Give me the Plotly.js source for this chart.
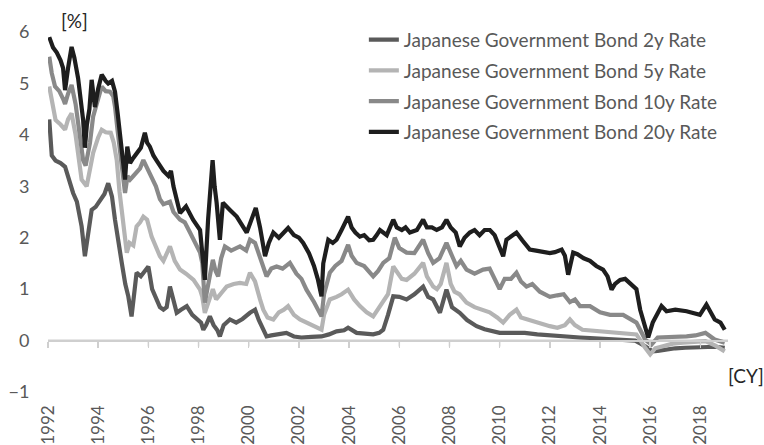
<!DOCTYPE html>
<html>
<head>
<meta charset="utf-8">
<script src="https://cdn.plot.ly/plotly-3.0.1.min.js"></script>
<style>html,body{margin:0;padding:0;background:#fff;}#chart{width:764px;height:445px;}</style>
</head>
<body>
<div id="chart"></div>
<script>
// ---- data (decimal calendar year, % yield) ----
const seriesNames = [
  "Japanese Government Bond 2y Rate",
  "Japanese Government Bond 5y Rate",
  "Japanese Government Bond 10y Rate",
  "Japanese Government Bond 20y Rate"
];
const tickYears = [1992,1994,1996,1998,2000,2002,2004,2006,2008,2010,2012,2014,2016,2018];
const tickLabels = ["1992","1994","1996","1998","2000","2002","2004","2006","2008","2010","2012","2014","2016","2018"];
const yRange = [-1, 6];
const xRange = [1992, 2019.1];

const t2 = [1992.05,1992.15,1992.3,1992.5,1992.68,1992.85,1993.0,1993.15,1993.34,1993.47,1993.6,1993.74,1993.9,1994.07,1994.25,1994.4,1994.55,1994.67,1994.8,1994.94,1995.08,1995.2,1995.33,1995.42,1995.53,1995.7,1995.85,1996.0,1996.15,1996.26,1996.46,1996.6,1996.73,1996.86,1997.0,1997.13,1997.3,1997.53,1997.75,1997.93,1998.1,1998.19,1998.3,1998.45,1998.6,1998.75,1998.85,1999.0,1999.25,1999.5,1999.75,2000.05,2000.25,2000.4,2000.71,2000.9,2001.2,2001.5,2001.8,2002.1,2002.5,2002.9,2003.2,2003.5,2003.8,2003.96,2004.3,2004.7,2004.96,2005.2,2005.36,2005.55,2005.76,2006.0,2006.29,2006.6,2006.95,2007.15,2007.35,2007.62,2007.88,2008.1,2008.41,2008.7,2009.08,2009.4,2009.7,2010.0,2010.5,2011.0,2011.5,2012.0,2012.5,2012.8,2013.2,2013.6,2014.0,2014.5,2015.0,2015.4,2015.8,2016.1,2016.3,2016.6,2017.0,2017.4,2017.8,2018.2,2018.6,2018.97];
const v2 = [4.3,3.6,3.5,3.45,3.38,3.1,2.87,2.7,2.22,1.64,2.1,2.54,2.6,2.74,2.85,3.06,2.8,2.35,2.0,1.51,1.1,0.86,0.47,0.8,1.32,1.25,1.35,1.44,1.0,0.86,0.65,0.6,0.65,1.05,0.75,0.54,0.6,0.67,0.5,0.41,0.35,0.21,0.3,0.47,0.3,0.2,0.08,0.3,0.41,0.35,0.42,0.54,0.6,0.4,0.08,0.1,0.12,0.15,0.08,0.06,0.07,0.08,0.12,0.18,0.2,0.25,0.15,0.12,0.12,0.15,0.21,0.5,0.86,0.85,0.8,0.9,1.05,0.85,0.8,0.54,0.99,0.65,0.54,0.4,0.28,0.22,0.18,0.15,0.15,0.15,0.12,0.1,0.08,0.06,0.06,0.05,0.04,0.02,0.02,0.0,-0.11,-0.21,-0.2,-0.17,-0.15,-0.14,-0.13,-0.11,-0.12,-0.14];

const t5 = [1992.05,1992.2,1992.3,1992.5,1992.68,1992.8,1992.94,1993.1,1993.25,1993.34,1993.54,1993.65,1993.8,1994.0,1994.14,1994.3,1994.5,1994.62,1994.74,1994.85,1994.94,1995.05,1995.14,1995.25,1995.4,1995.53,1995.67,1995.8,1995.95,1996.13,1996.3,1996.46,1996.6,1996.75,1996.86,1997.05,1997.26,1997.5,1997.8,1998.06,1998.15,1998.25,1998.35,1998.45,1998.57,1998.7,1998.78,1998.95,1999.12,1999.4,1999.65,1999.9,2000.05,2000.25,2000.45,2000.58,2000.75,2000.98,2001.2,2001.4,2001.57,2001.8,2002.04,2002.3,2002.6,2002.9,2003.0,2003.23,2003.5,2003.7,2003.96,2004.2,2004.43,2004.7,2004.96,2005.15,2005.36,2005.55,2005.76,2005.95,2006.1,2006.29,2006.6,2006.95,2007.1,2007.35,2007.5,2007.65,2007.88,2008.05,2008.2,2008.4,2008.68,2009.0,2009.34,2009.6,2009.9,2010.14,2010.4,2010.67,2010.85,2011.1,2011.5,2012.0,2012.3,2012.6,2012.8,2013.0,2013.3,2013.6,2014.0,2014.4,2014.9,2015.45,2015.8,2016.0,2016.2,2016.5,2016.9,2017.3,2017.7,2018.2,2018.6,2018.97];
const v5 = [4.94,4.6,4.29,4.2,4.1,4.3,4.42,4.0,3.5,3.13,3.0,3.3,3.65,3.95,4.1,4.05,4.04,3.85,3.51,2.9,2.48,2.0,1.71,1.9,1.85,2.22,2.3,2.41,2.35,2.02,1.8,1.64,1.55,1.7,1.83,1.55,1.38,1.3,1.18,0.99,0.85,0.54,0.7,0.8,1.0,0.8,0.86,0.95,1.05,1.1,1.12,1.1,1.32,1.15,0.8,0.6,0.45,0.41,0.55,0.6,0.67,0.5,0.41,0.35,0.3,0.21,0.5,0.8,0.85,0.9,0.99,0.8,0.67,0.55,0.47,0.6,0.74,0.9,1.44,1.3,1.2,1.18,1.3,1.51,1.25,1.05,1.0,1.1,1.51,1.1,0.95,0.9,0.74,0.65,0.6,0.55,0.45,0.35,0.5,0.6,0.45,0.41,0.35,0.28,0.25,0.3,0.41,0.3,0.21,0.2,0.18,0.16,0.15,0.12,-0.14,-0.27,-0.15,-0.11,-0.06,-0.04,-0.03,-0.01,-0.1,-0.21];

const t10 = [1992.05,1992.15,1992.28,1992.45,1992.6,1992.68,1992.8,1992.94,1993.1,1993.25,1993.4,1993.5,1993.67,1993.8,1994.0,1994.14,1994.3,1994.47,1994.6,1994.67,1994.77,1994.87,1995.0,1995.07,1995.17,1995.27,1995.4,1995.53,1995.67,1995.8,1995.95,1996.13,1996.3,1996.46,1996.6,1996.86,1997.0,1997.26,1997.45,1997.66,1997.85,1998.06,1998.15,1998.25,1998.35,1998.45,1998.57,1998.68,1998.78,1998.9,1999.05,1999.3,1999.65,1999.9,2000.05,2000.25,2000.45,2000.71,2000.9,2001.11,2001.35,2001.64,2001.9,2002.1,2002.3,2002.6,2002.9,2003.0,2003.23,2003.45,2003.7,2003.96,2004.1,2004.3,2004.6,2004.8,2004.96,2005.15,2005.36,2005.6,2005.82,2006.0,2006.29,2006.6,2006.95,2007.15,2007.35,2007.6,2007.88,2008.1,2008.28,2008.45,2008.68,2009.0,2009.34,2009.6,2009.88,2010.0,2010.2,2010.45,2010.67,2010.85,2011.07,2011.3,2011.6,2012.0,2012.3,2012.55,2012.8,2013.0,2013.2,2013.6,2014.0,2014.4,2014.92,2015.2,2015.45,2015.8,2016.05,2016.3,2016.7,2017.1,2017.45,2017.8,2018.2,2018.57,2018.97];
const v10 = [5.52,5.2,4.94,4.85,4.7,4.6,4.8,4.97,4.6,4.1,3.51,3.4,3.84,4.36,4.7,4.94,4.85,4.84,4.75,4.55,4.1,3.65,3.1,2.87,3.2,3.13,3.2,3.26,3.35,3.51,3.35,3.19,3.0,2.75,2.65,2.7,2.5,2.35,2.3,2.1,1.9,1.71,1.5,0.74,1.0,1.24,1.57,1.35,1.25,1.6,1.83,1.75,1.83,1.75,1.96,1.9,1.6,1.25,1.4,1.44,1.4,1.51,1.3,1.2,0.99,0.75,0.47,0.9,1.32,1.45,1.55,1.86,1.65,1.51,1.45,1.35,1.25,1.35,1.51,1.6,2.0,1.8,1.71,1.7,1.96,1.7,1.51,1.6,1.9,1.65,1.45,1.55,1.38,1.3,1.38,1.4,1.12,1.0,1.2,1.2,1.32,1.15,1.05,1.1,0.95,0.85,0.88,0.9,0.75,0.8,0.67,0.67,0.55,0.5,0.5,0.42,0.35,0.02,-0.08,0.06,0.06,0.08,0.08,0.1,0.15,0.02,-0.04];

const t20 = [1992.05,1992.2,1992.35,1992.5,1992.6,1992.68,1992.8,1992.94,1993.05,1993.2,1993.4,1993.47,1993.55,1993.65,1993.74,1993.87,1994.0,1994.14,1994.3,1994.4,1994.55,1994.67,1994.78,1994.87,1994.97,1995.07,1995.16,1995.27,1995.4,1995.53,1995.7,1995.86,1995.95,1996.06,1996.2,1996.33,1996.46,1996.6,1996.8,1996.9,1997.0,1997.26,1997.5,1997.78,1998.06,1998.18,1998.25,1998.38,1998.45,1998.56,1998.64,1998.72,1998.85,1998.97,1999.25,1999.52,1999.92,2000.28,2000.45,2000.65,2000.8,2000.98,2001.2,2001.4,2001.57,2001.8,2002.0,2002.17,2002.4,2002.6,2002.75,2002.9,2002.97,2003.1,2003.17,2003.35,2003.5,2003.7,2003.96,2004.1,2004.25,2004.43,2004.6,2004.8,2004.96,2005.1,2005.23,2005.5,2005.76,2005.9,2006.1,2006.25,2006.42,2006.7,2006.95,2007.1,2007.3,2007.49,2007.7,2007.88,2008.05,2008.25,2008.41,2008.6,2008.81,2009.0,2009.2,2009.4,2009.61,2009.8,2010.0,2010.14,2010.27,2010.45,2010.67,2010.9,2011.05,2011.2,2011.45,2011.7,2012.0,2012.2,2012.47,2012.6,2012.73,2012.93,2013.1,2013.35,2013.6,2013.85,2014.12,2014.3,2014.46,2014.6,2014.8,2015.0,2015.2,2015.45,2015.6,2015.8,2015.92,2016.1,2016.45,2016.65,2017.0,2017.45,2017.98,2018.24,2018.57,2018.8,2018.97];
const v20 = [5.9,5.7,5.6,5.45,5.3,4.87,5.3,5.71,5.5,5.1,4.29,3.75,4.2,4.5,5.07,4.54,4.9,5.17,5.05,5.0,5.05,4.84,4.4,3.97,3.6,3.13,3.77,3.45,3.55,3.65,3.75,4.04,3.85,3.77,3.6,3.5,3.4,3.3,3.2,3.3,3.0,2.48,2.61,2.35,2.15,1.57,1.18,2.35,2.8,3.51,3.0,2.68,1.96,2.68,2.54,2.41,2.1,2.58,2.2,1.64,1.9,2.1,2.0,2.1,2.19,2.05,2.0,1.9,1.7,1.45,1.2,0.86,1.5,1.8,1.96,1.9,1.96,2.15,2.41,2.2,2.1,2.02,2.05,1.95,1.96,2.05,2.15,2.05,2.35,2.2,2.15,2.2,2.1,2.15,2.35,2.2,2.2,2.15,2.2,2.35,2.2,2.1,1.83,2.0,2.1,2.15,2.05,2.15,2.15,2.05,1.8,1.64,1.96,2.02,2.1,1.95,1.85,1.77,1.75,1.72,1.7,1.72,1.77,1.65,1.28,1.71,1.68,1.6,1.55,1.45,1.38,1.25,0.99,1.1,1.18,1.2,1.12,1.0,0.6,0.28,0.06,0.35,0.67,0.57,0.6,0.57,0.5,0.7,0.41,0.35,0.21];

const xs = [t2, t5, t10, t20];
const ys = [v2, v5, v10, v20];
const colors = ["#5a5a5a", "#b4b4b4", "#898989", "#1e1e1e"];

const FONT = "Lato, 'Open Sans', sans-serif";
const AXIS_GREY = "#cfcfcf";

const traces = seriesNames.map((n, i) => ({
  type: "scatter", mode: "lines", name: n,
  x: xs[i], y: ys[i],
  line: {color: colors[i], width: 4.2},
  legendgroup: "g" + i,
  hoverinfo: "skip"
}));

// fraction of the plot height at which value 0 sits
const zeroPos = (0 - yRange[0]) / (yRange[1] - yRange[0]);

// axis line at the zero level and its tick marks, as a fallback to the axis itself
const axisShapes = [{
  type: "line", layer: "below", xref: "x", yref: "y",
  x0: xRange[0], x1: xRange[1], y0: 0, y1: 0,
  line: {color: AXIS_GREY, width: 2}
}].concat(tickYears.map(yr => ({
  type: "line", layer: "below", xref: "x", yref: "y",
  x0: yr, x1: yr, ysizemode: "pixel", yanchor: 0, y0: 0, y1: -6,
  line: {color: AXIS_GREY, width: 1.5}
})));

const layout = {
  width: 764, height: 445,
  margin: {l: 48, r: 36, t: 32, b: 53},
  paper_bgcolor: "#fff", plot_bgcolor: "rgba(0,0,0,0)",
  font: {family: FONT, size: 18, color: "#595959"},
  showlegend: true,
  legend: {
    x: 0.4645, xanchor: "left", y: 1.031, yanchor: "top",
    font: {family: FONT, size: 19, color: "#595959"},
    bgcolor: "rgba(0,0,0,0)", tracegroupgap: 3, itemwidth: 30
  },
  // x axis pinned at the zero level; year labels pushed down to the bottom of the chart
  xaxis: {
    anchor: "free", position: zeroPos, side: "bottom",
    range: xRange, tickvals: tickYears, ticktext: tickLabels, tickangle: -90,
    showline: true, linecolor: AXIS_GREY, linewidth: 2,
    ticks: "outside", ticklen: 6, tickcolor: AXIS_GREY, tickwidth: 1.5,
    ticklabelstandoff: 51,
    showgrid: false, zeroline: false,
    tickfont: {family: FONT, size: 17, color: "#595959"}
  },
  yaxis: {
    range: yRange, dtick: 1, showgrid: false, showline: false, zeroline: false,
    ticks: "outside", ticklen: 14, tickcolor: "rgba(0,0,0,0)",
    tickfont: {family: FONT, size: 18, color: "#595959"}
  },
  shapes: axisShapes,
  annotations: [
    {text: "[%]", xref: "paper", yref: "paper", x: 0.0395, y: 1.033,
     xanchor: "center", yanchor: "middle", showarrow: false,
     font: {family: FONT, size: 19, color: "#262626"}},
    {text: "[CY]", xref: "paper", yref: "paper", x: 1.026, y: 0.047,
     xanchor: "center", yanchor: "middle", showarrow: false,
     font: {family: FONT, size: 19, color: "#262626"}}
  ]
};

Plotly.newPlot("chart", traces, layout, {staticPlot: true, displayModeBar: false});
</script>
</body>
</html>
